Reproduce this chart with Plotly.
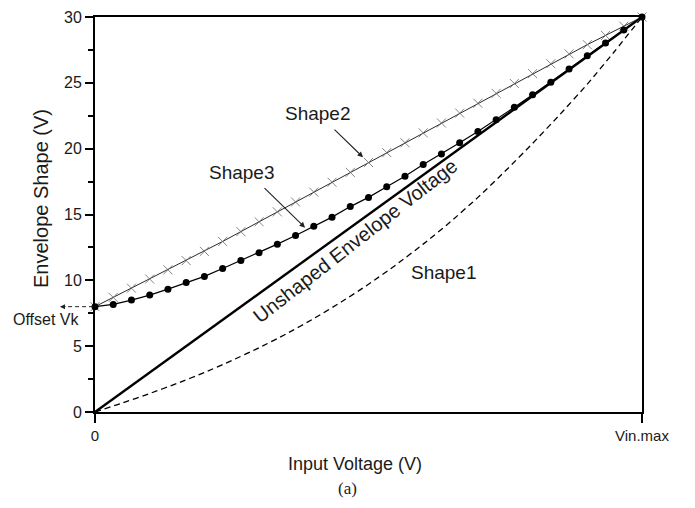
import plotly.graph_objects as go

# ---- data (x normalised: 0 -> 0, 1 -> Vin.max) ----
x_grid30 = [i / 30 for i in range(31)]

shape2_vals = [8.0, 8.7, 9.4, 10.1, 10.8, 11.5, 12.2, 12.95, 13.7, 14.45, 15.2,
               15.95, 16.7, 17.45, 18.2, 18.95, 19.7, 20.45, 21.2, 21.95, 22.7,
               23.45, 24.2, 24.95, 25.7, 26.45, 27.2, 27.9, 28.6, 29.3, 30.0]

shape3_vals = [8.0, 8.17, 8.5, 8.88, 9.33, 9.83, 10.3, 10.9, 11.5, 12.1, 12.75,
               13.4, 14.1, 14.8, 15.6, 16.3, 17.1, 17.9, 18.8, 19.6, 20.45,
               21.3, 22.2, 23.15, 24.1, 25.05, 26.05, 27.05, 28.02, 29.01, 30.0]

shape1_x = [0.0, 0.05, 0.1, 0.15, 0.2, 0.25, 0.3, 0.35, 0.4, 0.45, 0.5,
            0.55, 0.6, 0.65, 0.7, 0.75, 0.8, 0.85, 0.9, 0.95, 1.0]
shape1_vals = [0.0, 0.685, 1.405, 2.17, 3.0, 3.91, 4.88, 5.94, 7.1, 8.35, 9.7,
               11.17, 12.75, 14.45, 16.3, 18.3, 20.4, 22.6, 24.9, 27.4, 30.0]

unshaped_x = [0.0, 1.0]
unshaped_vals = [0.0, 30.0]

x_tickvals = [0, 1]
x_ticktext = ["0", "Vin.max"]
y_tickvals = [0, 5, 10, 15, 20, 25, 30]

FONT = "Liberation Sans, Arial, sans-serif"
TXT = "#1a1a1a"

fig = go.Figure()

fig.add_trace(go.Scatter(x=shape1_x, y=shape1_vals, mode="lines",
                         line=dict(color="black", width=1.3, dash="6px,4px",
                                   shape="spline", smoothing=0.6),
                         hoverinfo="skip", showlegend=False))
fig.add_trace(go.Scatter(x=unshaped_x, y=unshaped_vals, mode="lines",
                         line=dict(color="black", width=2.4),
                         hoverinfo="skip", showlegend=False))
fig.add_trace(go.Scatter(x=x_grid30, y=shape2_vals, mode="lines+markers",
                         line=dict(color="#2a2a2a", width=1),
                         marker=dict(symbol="x-thin", size=9,
                                     line=dict(color="#666666", width=0.8)),
                         hoverinfo="skip", showlegend=False, cliponaxis=False))
fig.add_trace(go.Scatter(x=x_grid30, y=shape3_vals, mode="lines+markers",
                         line=dict(color="black", width=1.2),
                         marker=dict(symbol="circle", size=7, color="black"),
                         hoverinfo="skip", showlegend=False, cliponaxis=False))

# ---- annotations ----
ann = []
ann.append(dict(x=0.408, y=22.7, xref="x", yref="y", text="Shape2",
                showarrow=False, font=dict(family=FONT, size=19, color=TXT)))
ann.append(dict(x=0.49, y=19.35, xref="x", yref="y", ax=-30, ay=-29,
                text="", showarrow=True, arrowhead=2, arrowsize=1,
                arrowwidth=1.1, arrowcolor="#222"))
ann.append(dict(x=0.2687, y=18.2, xref="x", yref="y", text="Shape3",
                showarrow=False, font=dict(family=FONT, size=19, color=TXT)))
ann.append(dict(x=0.384, y=14.0, xref="x", yref="y", ax=-42, ay=-41,
                text="", showarrow=True, arrowhead=2, arrowsize=1,
                arrowwidth=1.1, arrowcolor="#222"))
ann.append(dict(x=0.638, y=10.6, xref="x", yref="y", text="Shape1",
                showarrow=False, font=dict(family=FONT, size=19, color=TXT)))
ann.append(dict(x=0.475, y=13.0, xref="x", yref="y",
                text="Unshaped Envelope Voltage", textangle=-38,
                showarrow=False, font=dict(family=FONT, size=20, color=TXT)))
ann.append(dict(x=-0.088, y=7.0, xref="paper", yref="y", text="Offset Vk",
                xanchor="center", yanchor="middle",
                showarrow=False, font=dict(family=FONT, size=16, color=TXT)))
# arrow head for offset
ann.append(dict(x=-0.064, y=8.0, xref="paper", yref="y", ax=7, ay=0,
                text="", showarrow=True, arrowhead=2, arrowsize=1,
                arrowwidth=1, arrowcolor="#222"))
# axis titles / caption
ann.append(dict(x=0.475, y=-0.1315, xref="paper", yref="paper",
                text="Input Voltage (V)", showarrow=False,
                xanchor="center", yanchor="middle",
                font=dict(family=FONT, size=18, color=TXT)))
ann.append(dict(x=0.461, y=-0.1935, xref="paper", yref="paper",
                text="(a)", showarrow=False,
                xanchor="center", yanchor="middle",
                font=dict(family="Liberation Serif, Times New Roman, serif", size=17, color=TXT)))
ann.append(dict(x=-0.1, y=0.54, xref="paper", yref="paper",
                text="Envelope Shape (V)", textangle=-90, showarrow=False,
                xanchor="center", yanchor="middle",
                font=dict(family=FONT, size=20, color=TXT)))

shapes = [dict(type="line", xref="paper", yref="y", x0=-0.062, x1=0.0,
               y0=8.0, y1=8.0, line=dict(color="#222", width=1, dash="4px,3px"))]

fig.update_layout(
    width=695, height=508,
    margin=dict(l=95, r=53, t=9, b=96),
    plot_bgcolor="white", paper_bgcolor="white",
    annotations=ann, shapes=shapes,
    font=dict(family=FONT, color=TXT),
)
fig.update_xaxes(range=[0, 1], tickvals=x_tickvals, ticktext=x_ticktext,
                 showgrid=False, zeroline=False, showline=True, mirror=True,
                 linecolor="black", linewidth=2, ticks="outside", ticklen=9,
                 tickwidth=1.5, tickcolor="black",
                 tickfont=dict(family=FONT, size=15, color=TXT))
fig.update_yaxes(range=[0, 30], tickvals=y_tickvals,
                 showgrid=False, zeroline=False, showline=True, mirror=True,
                 linecolor="black", linewidth=2, ticks="outside", ticklen=8,
                 tickwidth=1.5, tickcolor="black",
                 minor=dict(dtick=2.5, ticks="outside", ticklen=5, tickwidth=1.5,
                            tickcolor="black", showgrid=False),
                 tickfont=dict(family=FONT, size=16, color=TXT))

fig.write_html("out.html")
